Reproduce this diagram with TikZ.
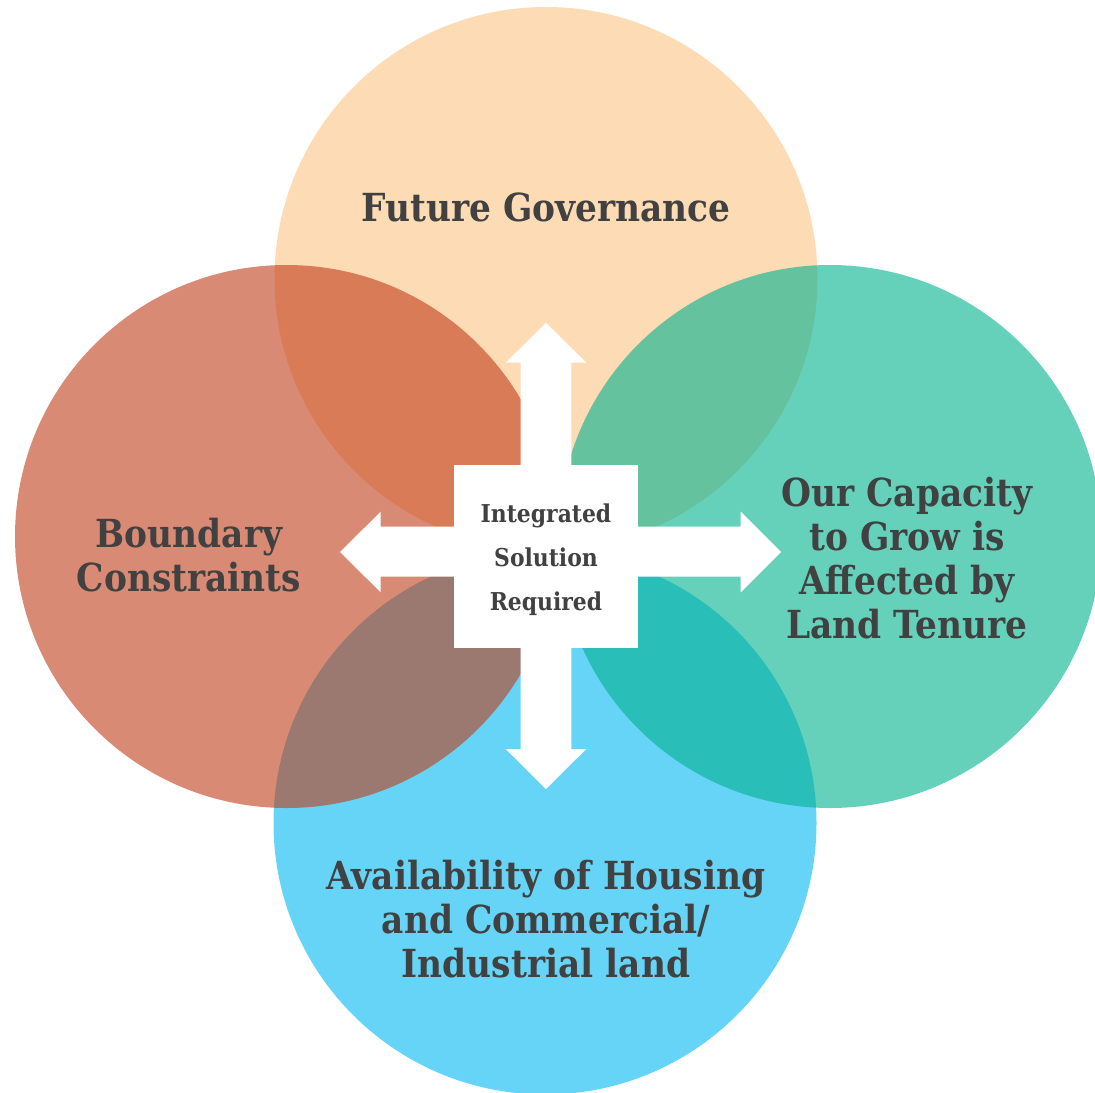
\documentclass[tikz,border=0pt]{standalone}
\usepackage{fontspec}
\setmainfont{DejaVu Serif}[FakeStretch=0.89]
\definecolor{govpeach}{RGB}{252,195,132}
\definecolor{boundred}{RGB}{192,60,23}
\definecolor{tenuregreen}{RGB}{0,178,142}
\definecolor{landblue}{RGB}{0,183,242}
\definecolor{labelgray}{RGB}{65,65,65}
\tikzset{
  disc/.style={fill opacity=0.6},
  biglabel/.style={text=labelgray,align=center,
    font=\bfseries\fontsize{22}{25}\selectfont},
  sollabel/.style={text=labelgray,align=center,
    font=\bfseries\fontsize{14}{25}\selectfont}
}
\begin{document}
\begin{tikzpicture}[x=0.02cm,y=-0.02cm]
  \useasboundingbox (0,0) rectangle (1095,1092);
  % the four circles
  \fill[govpeach,disc] (546,278.5) circle (271.5);
  \fill[landblue,disc] (545,823) circle (271.5);
  \fill[boundred,disc] (286.5,536.5) circle (271.5);
  \fill[tenuregreen,disc] (830,536.5) circle (271.5);

  % double arrows and the box
  \fill[white] (520.7,362.7) -- (505.7,362.7) -- (546,322.7) -- (586.3,362.7)
    -- (571.3,362.7) -- (571.3,749) -- (586.3,749) -- (546,789) -- (505.7,749)
    -- (520.7,749) -- cycle;
  \fill[white] (380.7,526.7) -- (380.7,511.7) -- (340,552) -- (380.7,592.3)
    -- (380.7,576.7) -- (740.7,576.7) -- (740.7,592.3) -- (781,552)
    -- (740.7,511.7) -- (740.7,526.7) -- cycle;
  \fill[white] (454,465) rectangle (638,648);

  \node[sollabel] (sol) at (546,560) {Integrated\\Solution\\Required};

  \node[biglabel] (gov) at (546,207.5) {Future Governance};
  \node[biglabel] (bound) at (189,555.5) {Boundary\\Constraints};
  \node[biglabel] (cap) at (907,558) {Our Capacity\\to Grow is\\Affected by\\Land Tenure};
  \node[biglabel] (avail) at (546,919) {Availability of Housing\\and Commercial/\\Industrial land};
\end{tikzpicture}
\end{document}
